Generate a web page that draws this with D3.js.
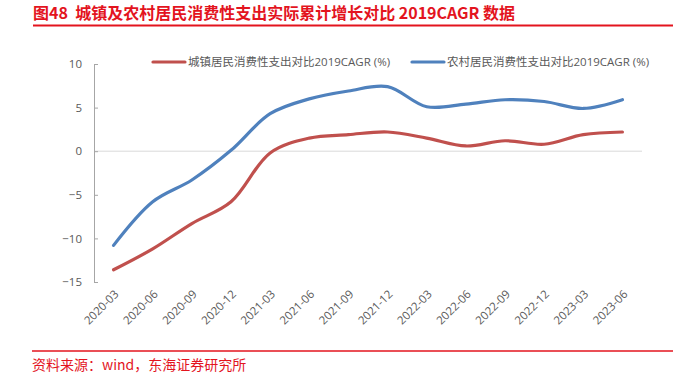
<!DOCTYPE html>
<meta charset="UTF-8">
<style>
    body { margin: 0; background: #fff; }
    text { font-family: "Open Sans", "Noto Sans CJK SC", sans-serif; }
    .cjk { font-family: "Noto Sans CJK SC", sans-serif; white-space: pre; }
</style>
<body>
<div id="chart"></div>
<script src="https://d3js.org/d3.v7.min.js"></script>
<script>

// data
var quarters = ["2020-03", "2020-06", "2020-09", "2020-12", "2021-03", "2021-06", "2021-09",
                "2021-12", "2022-03", "2022-06", "2022-09", "2022-12", "2023-03", "2023-06"];
var urban = [-13.6, -11.2, -8.3, -5.8, -0.2, 1.5, 1.9, 2.2, 1.5, 0.6, 1.2, 0.8, 1.9, 2.2];
var rural = [-10.8, -5.8, -3.3, 0.1, 4.3, 6.0, 6.9, 7.4, 5.1, 5.4, 5.9, 5.7, 4.9, 5.9];
var yTicks = [-15, -10, -5, 0, 5, 10];
var seriesNames = ["城镇居民消费性支出对比2019CAGR (%)", "农村居民消费性支出对比2019CAGR (%)"];

var width = 691, height = 376;
var plot = {left: 94, right: 642, top: 64, bottom: 282};

var svg = d3.select("#chart").append("svg")
    .attr("width", width)
    .attr("height", height);

// title and source
svg.append("text")
    .attr("class", "cjk")
    .attr("x", 33).attr("y", 19)
    .attr("fill", "#E3141E")
    .attr("font-size", 16)
    .attr("font-weight", "bold")
    .text("图48  城镇及农村居民消费性支出实际累计增长对比 2019CAGR 数据");

svg.append("line")
    .attr("x1", 33).attr("x2", 673).attr("y1", 25.5).attr("y2", 25.5)
    .attr("stroke", "#E3141E").attr("stroke-width", 2);

svg.append("line")
    .attr("x1", 32).attr("x2", 673).attr("y1", 351).attr("y2", 351)
    .attr("stroke", "#E3141E").attr("stroke-width", 1.5);

svg.append("text")
    .attr("class", "cjk")
    .attr("x", 32).attr("y", 370)
    .attr("fill", "#E3141E")
    .attr("font-size", 14)
    .text("资料来源：wind，东海证券研究所");

// scales
var x = d3.scalePoint()
    .domain(quarters)
    .range([plot.left, plot.right])
    .padding(0.5);

var y = d3.scaleLinear()
    .domain([-15, 10])
    .range([plot.bottom, plot.top]);

// zero line
svg.append("line")
    .attr("x1", plot.left).attr("x2", plot.right)
    .attr("y1", y(0)).attr("y2", y(0))
    .attr("stroke", "#D9D9D9").attr("stroke-width", 1);

// y axis
var yAxis = svg.append("g")
    .attr("transform", "translate(" + plot.left + ",0)")
    .call(d3.axisLeft(y).tickValues(yTicks).tickSize(-4).tickPadding(12));
yAxis.select(".domain").attr("stroke", "#A6A6A6");
yAxis.selectAll(".tick line").attr("stroke", "#A6A6A6");
yAxis.selectAll("text")
    .attr("fill", "#595959")
    .attr("font-size", 11.5)
    .style("font-family", "'Open Sans', sans-serif");

// x labels, rotated
svg.append("g")
    .selectAll("text")
    .data(quarters)
    .enter().append("text")
    .attr("transform", function(d) { return "translate(" + (x(d) + 3) + "," + (plot.bottom + 10) + ") rotate(-45)"; })
    .attr("text-anchor", "end")
    .attr("dy", "0.35em")
    .attr("fill", "#595959")
    .attr("font-size", 11.5)
    .text(function(d) { return d; });

// lines
var line = d3.line()
    .x(function(d, i) { return x(quarters[i]); })
    .y(function(d) { return y(d); })
    .curve(d3.curveCatmullRom.alpha(0.5));

var colors = ["#C0504D", "#4F81BD"];

[urban, rural].forEach(function(s, k) {
    svg.append("path")
        .datum(s)
        .attr("fill", "none")
        .attr("stroke", colors[k])
        .attr("stroke-width", 3.2)
        .attr("stroke-linecap", "round")
        .attr("d", line);
});

// legend
var legendX = [153, 412];
seriesNames.forEach(function(name, k) {
    svg.append("line")
        .attr("x1", legendX[k]).attr("x2", legendX[k] + 32)
        .attr("y1", 62).attr("y2", 62)
        .attr("stroke", colors[k]).attr("stroke-width", 3.2)
        .attr("stroke-linecap", "round");
    svg.append("text")
        .attr("x", legendX[k] + 35).attr("y", 62)
        .attr("dy", "0.35em")
        .attr("fill", "#595959")
        .attr("font-size", 11.5)
        .text(name);
});

</script>
</body>
